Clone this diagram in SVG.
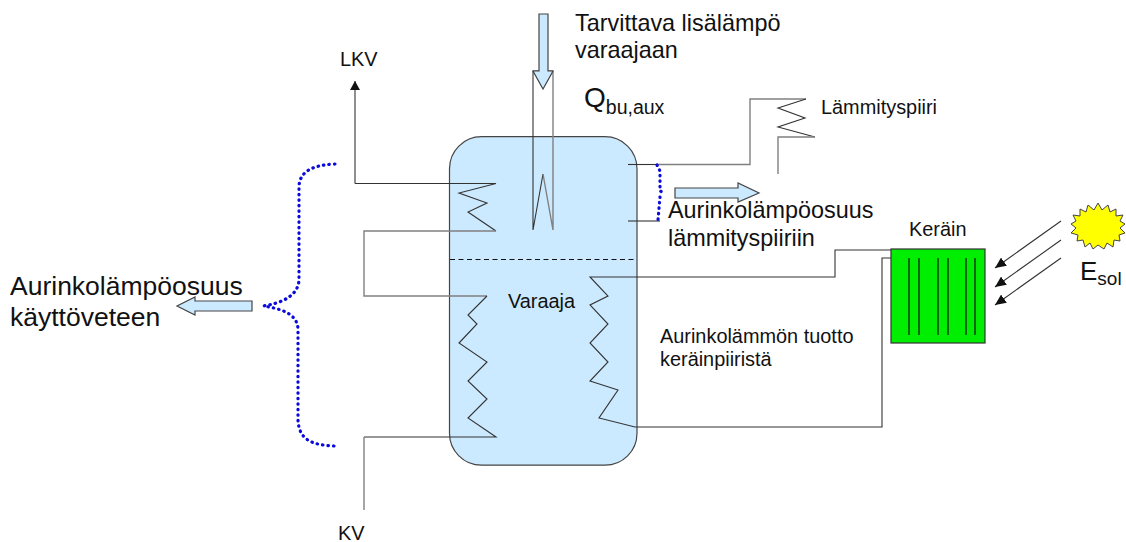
<svg xmlns="http://www.w3.org/2000/svg" width="1126" height="542" viewBox="0 0 1126 542">
<defs>
<marker id="solar" markerWidth="12" markerHeight="10" refX="11" refY="5" orient="auto" markerUnits="userSpaceOnUse"><path d="M0 0L11 5L0 10Z" fill="#111"/></marker>
<marker id="up" markerWidth="11" markerHeight="10" refX="9" refY="5" orient="auto" markerUnits="userSpaceOnUse"><path d="M0 0L9 5L0 10Z" fill="#111"/></marker>
</defs>
<style>
text{font-family:"Liberation Sans",Arial,sans-serif;fill:#111}
.big{font-size:26.5px}
.mid{font-size:23.4px}
.small{font-size:19.9px}
.k{fill:none;stroke:#333;stroke-width:1.1}
.g{fill:none;stroke:#808080;stroke-width:1.4}
.b{fill:#cceaff;stroke:#444;stroke-width:1.2}
.dot{fill:none;stroke:#0a0adc;stroke-width:3.2;stroke-linecap:round;stroke-dasharray:0.5 5}
</style>
<g id="tank">
<rect x="449.500" y="136.700" width="187.500" height="328.500" rx="32" ry="32" fill="#cceaff" stroke="#444" stroke-width="1.2"/>
<line x1="450" y1="259.500" x2="637" y2="259.500" stroke="#111" stroke-width="1" stroke-dasharray="5 3.500"/>
<text class="small" x="508" y="308">Varaaja</text>
</g>
<g id="connectors">
<path class="k" d="M355 183.500H496L459 193L487 203L468 212L496 231"/>
<line x1="355" y1="183.500" x2="355" y2="81" class="k" marker-end="url(#up)"/>
<path class="g" d="M496 231H364V296H487"/>
<path class="k" d="M487 296L468 315L477 324L459 343L487 362L468 381L487 399L468 418L496 437H364"/>
<path class="g" d="M364 437V510"/>
<path class="k" d="M533 71V230L543 174"/>
<path class="k" d="M533 71H553"/>
<path class="g" d="M553 71V230L543 174"/>
<path class="k" d="M628 164.500H657"/>
<path class="g" d="M657 164.500H750V99H806"/>
<path class="k" d="M806 99L778 108L805 118L778 127L815 137"/>
<path class="g" d="M815 137H778V174"/>
<path class="k" d="M628 221H660"/>
<path class="k" d="M891 250H835V277H590L608 296L590 305L608 324L590 343L608 362L590 381L618 390L599 418L635 427H882V258H891"/>
<line x1="1061" y1="221" x2="995" y2="268" class="k" marker-end="url(#solar)"/>
<line x1="1061" y1="240" x2="995" y2="287" class="k" marker-end="url(#solar)"/>
<line x1="1061" y1="258" x2="995" y2="305" class="k" marker-end="url(#solar)"/>
<path class="dot" d="M335 164C315 165 300 170 299 186V280C298 296 282 303 263 306"/>
<path class="dot" d="M334 446C312 445 299 440 298 420V330C298 315 284 309 263 306"/>
<path class="dot" d="M657 165L660 171V191L665 193M660 197L658 220"/>
</g>
<g id="flows">
<path class="b" d="M539 14H548V71H553L543 89L533 71H539Z"/>
<path class="b" d="M675 188H738V183L759 193L738 202V198H675Z"/>
<path class="b" d="M252 301H195V297L177 306L195 315V311H252Z"/>
</g>
<g id="collector">
<rect x="891" y="249" width="94" height="94" fill="#00ee00" stroke="#333" stroke-width="1.2"/>
<path d="M909 258V335M919 258V335M938 258V335M948 258V335M966 258V335M975 258V335" stroke="#111" stroke-width="1.2" fill="none"/>
<text class="small" x="909" y="236">Keräin</text>
</g>
<g id="sun">
<polygon fill="#ffff00" stroke="#444" stroke-width="1" points="1098,203 1102,210 1108,205 1110,212 1116,209 1116,216 1123,215 1120,221 1125,224 1120,228 1125,233 1119,235 1120,241 1114,240 1113,247 1107,243 1104,249 1098,245 1093,249 1090,243 1085,247 1083,240 1077,241 1078,235 1071,233 1076,228 1071,224 1076,221 1073,215 1080,216 1080,209 1086,212 1088,205 1094,210"/>
</g>
<g id="labels">
<text class="mid" x="575" y="31">Tarvittava lisälämpö</text>
<text class="mid" x="575" y="58">varaajaan</text>
<text font-size="28" x="584" y="107">Q<tspan font-size="19.500" dy="7">bu,aux</tspan></text>
<text class="small" x="340" y="66">LKV</text>
<text class="small" x="338" y="540">KV</text>
<text class="small" x="821" y="114">Lämmityspiiri</text>
<text class="mid" x="668" y="218">Aurinkolämpöosuus</text>
<text class="mid" x="668" y="246">lämmityspiiriin</text>
<text class="small" x="660" y="343">Aurinkolämmön tuotto</text>
<text class="small" x="660" y="366">keräinpiiristä</text>
<text class="big" x="10" y="295">Aurinkolämpöosuus</text>
<text class="big" x="10" y="326">käyttöveteen</text>
<text font-size="26" x="1080" y="280">E<tspan font-size="19" dy="5">sol</tspan></text>
</g>
</svg>
